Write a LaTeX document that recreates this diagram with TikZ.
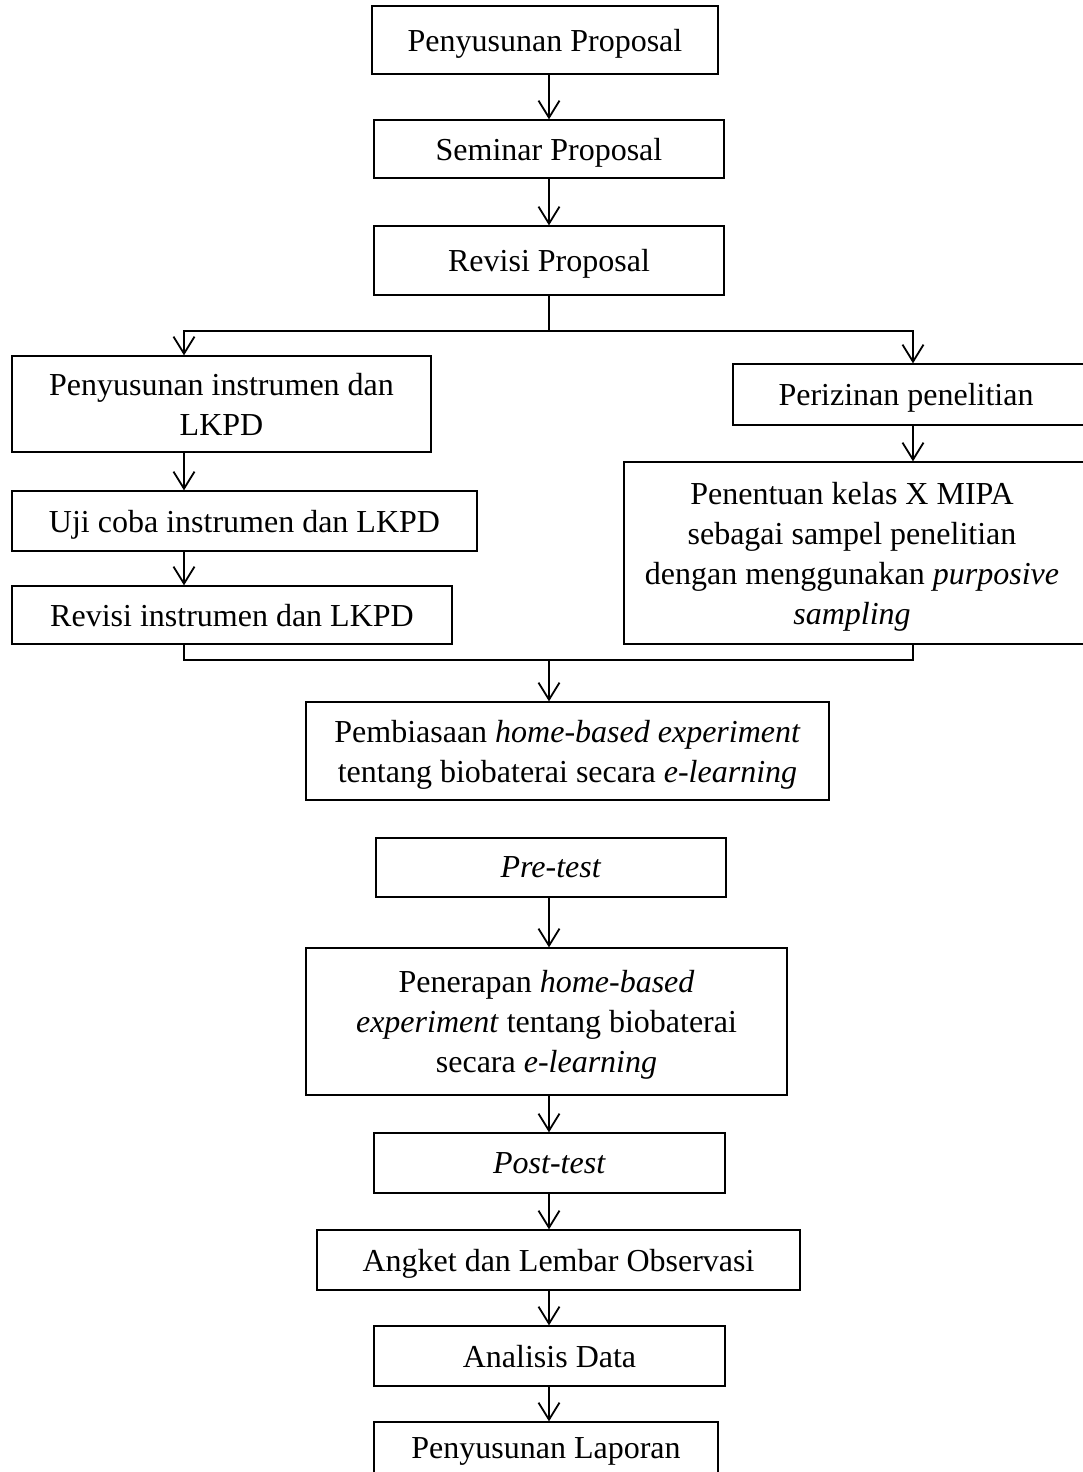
\documentclass[tikz,border=0pt]{standalone}
\usepackage{fontspec}
\setmainfont{Liberation Serif}
\usetikzlibrary{arrows.meta}

\tikzset{
  procbox/.style={draw, line width=0.65pt, rectangle, inner sep=0pt, align=center,
    text depth=0pt, font=\fontsize{16pt}{20pt}\selectfont},
  flowline/.style={line width=1pt},
  flowarrow/.style={line width=0.9pt, -{Straight Barb[length=8.5pt,width=10.5pt,line width=0.9pt]}}
}

\begin{document}
\begin{tikzpicture}[x=0.5pt,y=-0.5pt]
    \useasboundingbox (0,0) rectangle (1082,1472);

    % Guide coordinates for the vertical connectors
    \coordinate (spine) at (549,0);
    \coordinate (lx) at (184,0);
    \coordinate (rx) at (913,0);
    \coordinate (fork) at (549,331);
    \coordinate (join) at (549,660);

    % Proposal stages
    \node[procbox, minimum width=173pt, minimum height=34pt] (propA) at (545,40) {Penyusunan Proposal};
    \node[procbox, minimum width=175pt, minimum height=29pt] (seminar) at (549,149) {Seminar Proposal};
    \node[procbox, minimum width=175pt, minimum height=34.5pt] (revprop) at (549,260.5) {Revisi Proposal};

    % Left branch: instruments
    \node[procbox, minimum width=209.5pt, minimum height=48pt] (instr) at (221.5,404) {Penyusunan instrumen dan\\ LKPD};
    \node[procbox, minimum width=232.5pt, minimum height=30pt] (ujicoba) at (244.5,521) {Uji coba instrumen dan LKPD};
    \node[procbox, minimum width=220pt, minimum height=29pt] (revinstr) at (232,615) {Revisi instrumen dan LKPD};

    % Right branch: permits and sample (cut by the right margin)
    \node[procbox, minimum width=184pt, minimum height=30.5pt] (izin) at (917,394.5) {\hspace*{-11pt}Perizinan penelitian};
    \node[procbox, minimum width=238pt, minimum height=91pt] (sampel) at (862,553) {\hspace*{-10pt}Penentuan kelas X MIPA\\ \hspace*{-10pt}sebagai sampel penelitian\\ \hspace*{-10pt}dengan menggunakan \textit{purposive}\\ \hspace*{-10pt}\textit{sampling}};

    % Implementation stages
    \node[procbox, minimum width=261.5pt, minimum height=49pt] (biasa) at (567.5,751) {Pembiasaan \textit{home-based experiment}\\ tentang biobaterai secara \textit{e-learning}};
    \node[procbox, minimum width=175pt, minimum height=29.5pt] (pretest) at (551,867.5) {\textit{Pre-test}};
    \node[procbox, minimum width=240.5pt, minimum height=73.5pt] (terap) at (546.5,1021.5) {Penerapan \textit{home-based}\\ \textit{experiment} tentang biobaterai\\ secara \textit{e-learning}};
    \node[procbox, minimum width=175.5pt, minimum height=30pt] (posttest) at (549.5,1163) {\textit{Post-test}};
    \node[procbox, minimum width=241.5pt, minimum height=30pt] (angket) at (558.5,1260) {Angket dan Lembar Observasi};
    \node[procbox, minimum width=175.5pt, minimum height=30pt] (analisis) at (549.5,1356) {Analisis Data};
    \node[procbox, minimum width=172pt, minimum height=26pt] (laporan) at (546,1448) {Penyusunan Laporan};

    % Top connectors
    \draw[flowarrow] (spine |- propA.south) -- (spine |- seminar.north);
    \draw[flowarrow] (spine |- seminar.south) -- (spine |- revprop.north);

    % Fork into the two branches
    \draw[flowline] (spine |- revprop.south) -- (fork);
    \draw[flowarrow] (fork) -| (lx |- instr.north);
    \draw[flowarrow] (fork) -| (rx |- izin.north);

    % Inside the branches
    \draw[flowarrow] (lx |- instr.south) -- (lx |- ujicoba.north);
    \draw[flowarrow] (lx |- ujicoba.south) -- (lx |- revinstr.north);
    \draw[flowarrow] (rx |- izin.south) -- (rx |- sampel.north);

    % Join back to the spine
    \draw[flowline] (lx |- revinstr.south) |- (join) -| (rx |- sampel.south);
    \draw[flowarrow] (join) -- (spine |- biasa.north);

    % Lower connectors
    \draw[flowarrow] (spine |- pretest.south) -- (spine |- terap.north);
    \draw[flowarrow] (spine |- terap.south) -- (spine |- posttest.north);
    \draw[flowarrow] (spine |- posttest.south) -- (spine |- angket.north);
    \draw[flowarrow] (spine |- angket.south) -- (spine |- analisis.north);
    \draw[flowarrow] (spine |- analisis.south) -- (spine |- laporan.north);
\end{tikzpicture}
\end{document}
